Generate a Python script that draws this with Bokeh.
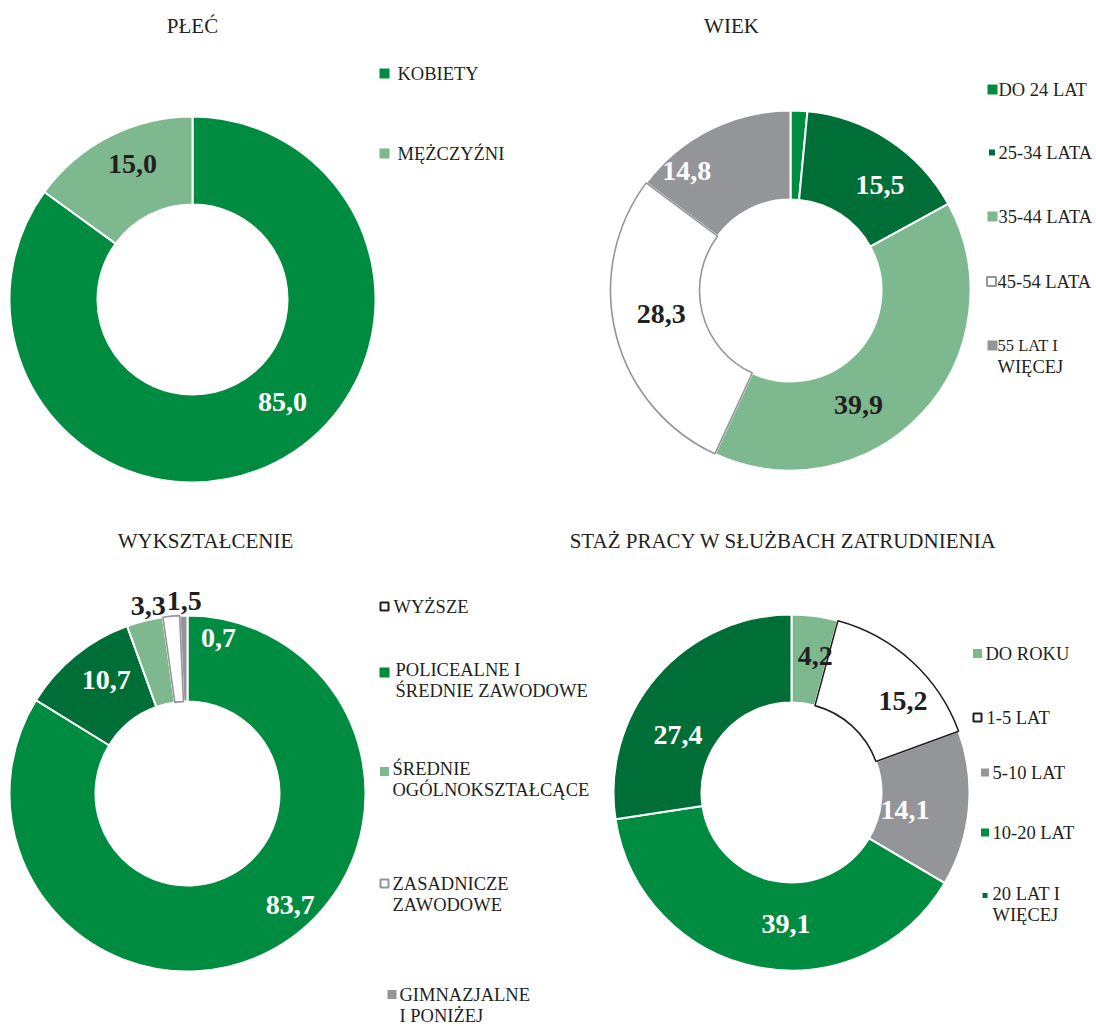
import math
from bokeh.plotting import figure
from bokeh.models import Range1d, ColumnDataSource
from bokeh.core.properties import value
from bokeh.embed import file_html
from bokeh.resources import INLINE

W, H = 1096, 1026

# ---------------- data ----------------
titles = ["PŁEĆ", "WIEK", "WYKSZTAŁCENIE", "STAŻ PRACY W SŁUŻBACH ZATRUDNIENIA"]

sex_labels = ["KOBIETY", "MĘŻCZYŹNI"]
sex_values = [85.0, 15.0]

age_labels = ["DO 24 LAT", "25-34 LATA", "35-44 LATA", "45-54 LATA", "55 LAT I\nWIĘCEJ"]
age_values = [1.5, 15.5, 39.9, 28.3, 14.8]

edu_labels = ["WYŻSZE", "POLICEALNE I\nŚREDNIE ZAWODOWE", "ŚREDNIE\nOGÓLNOKSZTAŁCĄCE",
              "ZASADNICZE\nZAWODOWE", "GIMNAZJALNE\nI PONIŻEJ"]
edu_values = [83.7, 10.7, 3.3, 1.5, 0.7]

ten_labels = ["DO ROKU", "1-5 LAT", "5-10 LAT", "10-20 LAT", "20 LAT I\nWIĘCEJ"]
ten_values = [4.2, 15.2, 14.1, 39.1, 27.4]

# ---------------- styles ----------------
GREEN = "#008C40"
DKGREEN = "#006F37"
LIGHT = "#7DB88E"
GREY = "#939598"
DARK = "#231F20"
WHITE = "#FFFFFF"
FONT = value("Liberation Serif")
LEG = 18.5

panels = [
    dict(title=titles[0], title_xy=(192, 25), c=(192, 299), R=183, r=95,
         values=sex_values, labels=sex_labels,
         fills=[GREEN, LIGHT], outlines=[None, None],
         lab_col=[WHITE, DARK], show=[True, True],
         nudge=[(27, -21), (3, -12)],
         legend=[(384, 73, 10, GREEN, None, 397, 73, [LEG]),
                 (384, 153, 10, LIGHT, None, 397, 153, [LEG])]),
    dict(title=titles[1], title_xy=(731, 25), c=(790, 290), R=180, r=91,
         values=age_values, labels=age_labels,
         fills=[GREEN, DKGREEN, LIGHT, WHITE, GREY], outlines=[None, None, None, GREY, None],
         lab_col=[WHITE, WHITE, DARK, DARK, WHITE], show=[False, True, True, True, True],
         nudge=[(0, 0), (15, 8), (-31, 22), (2, -10), (-43, 2)],
         legend=[(992, 89, 10, GREEN, None, 998, 89, [LEG]),
                 (991.5, 152, 6, DKGREEN, None, 998, 152, [LEG]),
                 (992, 216, 10, LIGHT, None, 998, 216, [LEG]),
                 (991, 281, 9, WHITE, GREY, 997, 281, [LEG]),
                 (992, 345, 10, GREY, None, 997, 345, [16.5, LEG])]),
    dict(title=titles[2], title_xy=(205, 540), c=(187, 793), R=178, r=92,
         values=edu_values, labels=edu_labels,
         fills=[GREEN, DKGREEN, LIGHT, WHITE, GREY], outlines=[None, None, None, GREY, None],
         lab_col=[WHITE, WHITE, DARK, DARK, WHITE], show=[True] * 5,
         nudge=[(37, -6), (4, -9), (-7, -56), (9, -58), (34, -21)],
         legend=[(384, 606, 8, WHITE, DARK, 393, 606, [LEG]),
                 (384, 672, 10, GREEN, None, 395, 669, [LEG]),
                 (384, 771, 9, LIGHT, None, 392, 768, [LEG]),
                 (384, 883, 8, WHITE, GREY, 392, 883, [LEG]),
                 (391.5, 994, 9, GREY, None, 399, 994, [LEG])]),
    dict(title=titles[3], title_xy=(783, 540), c=(791, 792), R=178, r=90,
         values=ten_values, labels=ten_labels,
         fills=[LIGHT, WHITE, GREY, GREEN, DKGREEN], outlines=[None, DARK, None, None, None],
         lab_col=[DARK, DARK, WHITE, WHITE, WHITE], show=[True] * 5,
         nudge=[(6, -4), (21, 7), (-20, 5), (20, 0), (-12, 30)],
         legend=[(977, 653, 9, LIGHT, None, 985, 653, [LEG]),
                 (977, 717, 8, WHITE, DARK, 986, 717, [LEG]),
                 (984.5, 772, 8, GREY, None, 992, 772, [LEG]),
                 (984.5, 832, 8, GREEN, None, 992, 832, [LEG]),
                 (984.5, 895, 5, DKGREEN, None, 992, 893, [LEG])]),
]


def Y(py):
    return H - py


p = figure(width=W, height=H, x_range=Range1d(0, W), y_range=Range1d(0, H),
           output_backend="svg", toolbar_location=None,
           x_axis_location=None, y_axis_location=None, min_border=0)
p.grid.visible = False
p.outline_line_color = None
p.background_fill_color = WHITE
p.border_fill_color = WHITE

for pn in panels:
    vals = pn["values"]
    tot = sum(vals)
    cx, cy = pn["c"]
    cum = [0.0]
    for v in vals:
        cum.append(cum[-1] + v / tot)
    starts = [math.pi / 2 - 2 * math.pi * cum[i] for i in range(len(vals))]
    ends = [math.pi / 2 - 2 * math.pi * cum[i + 1] for i in range(len(vals))]
    n = len(vals)
    src = ColumnDataSource(dict(x=[cx] * n, y=[Y(cy)] * n, s=starts, e=ends, fill=pn["fills"]))
    p.annular_wedge(x="x", y="y", inner_radius=pn["r"], outer_radius=pn["R"],
                    inner_radius_units="screen", outer_radius_units="screen",
                    start_angle="s", end_angle="e", direction="clock",
                    fill_color="fill", line_color=WHITE, line_width=2, source=src)
    # outlined (white) slices
    for i, oc in enumerate(pn["outlines"]):
        if oc is None:
            continue
        p.annular_wedge(x=cx, y=Y(cy), inner_radius=pn["r"], outer_radius=pn["R"],
                        inner_radius_units="screen", outer_radius_units="screen",
                        start_angle=starts[i], end_angle=ends[i], direction="clock",
                        fill_alpha=0, line_color=oc, line_width=1.6)
    # value labels
    rm = (pn["R"] + pn["r"]) / 2
    lx, ly, lt, lc = [], [], [], []
    for i, v in enumerate(vals):
        if not pn["show"][i]:
            continue
        mid = 2 * math.pi * (cum[i] + cum[i + 1]) / 2
        dx, dy = pn["nudge"][i]
        lx.append(cx + rm * math.sin(mid) + dx)
        ly.append(Y(cy - rm * math.cos(mid) + dy))
        lt.append(f"{v:.1f}".replace(".", ","))
        lc.append(pn["lab_col"][i])
    p.text(x=lx, y=ly, text=lt, text_color=lc, text_font=FONT, text_font_style="bold",
           text_font_size="28px", text_align="center", text_baseline="middle")
    # title
    tx, ty = pn["title_xy"]
    p.text(x=[tx], y=[Y(ty)], text=[pn["title"]], text_color=DARK, text_font=FONT,
           text_font_size="21px", text_align="center", text_baseline="middle")
    # legend
    for i, (mx, my, ms, mf, ml, tx, ty, fs) in enumerate(pn["legend"]):
        p.scatter(x=[mx], y=[Y(my)], marker="square", size=ms, fill_color=mf,
                  line_color=ml if ml else mf, line_width=2 if ml else 0)
        lines = pn["labels"][i].split("\n")
        for k, ln in enumerate(lines):
            f = fs[k] if k < len(fs) else fs[-1]
            p.text(x=[tx], y=[Y(ty + 21 * k)], text=[ln], text_color=DARK, text_font=FONT,
                   text_font_size=f"{f}px", text_align="left", text_baseline="middle")

open("out.html", "w").write(file_html(p, INLINE))
